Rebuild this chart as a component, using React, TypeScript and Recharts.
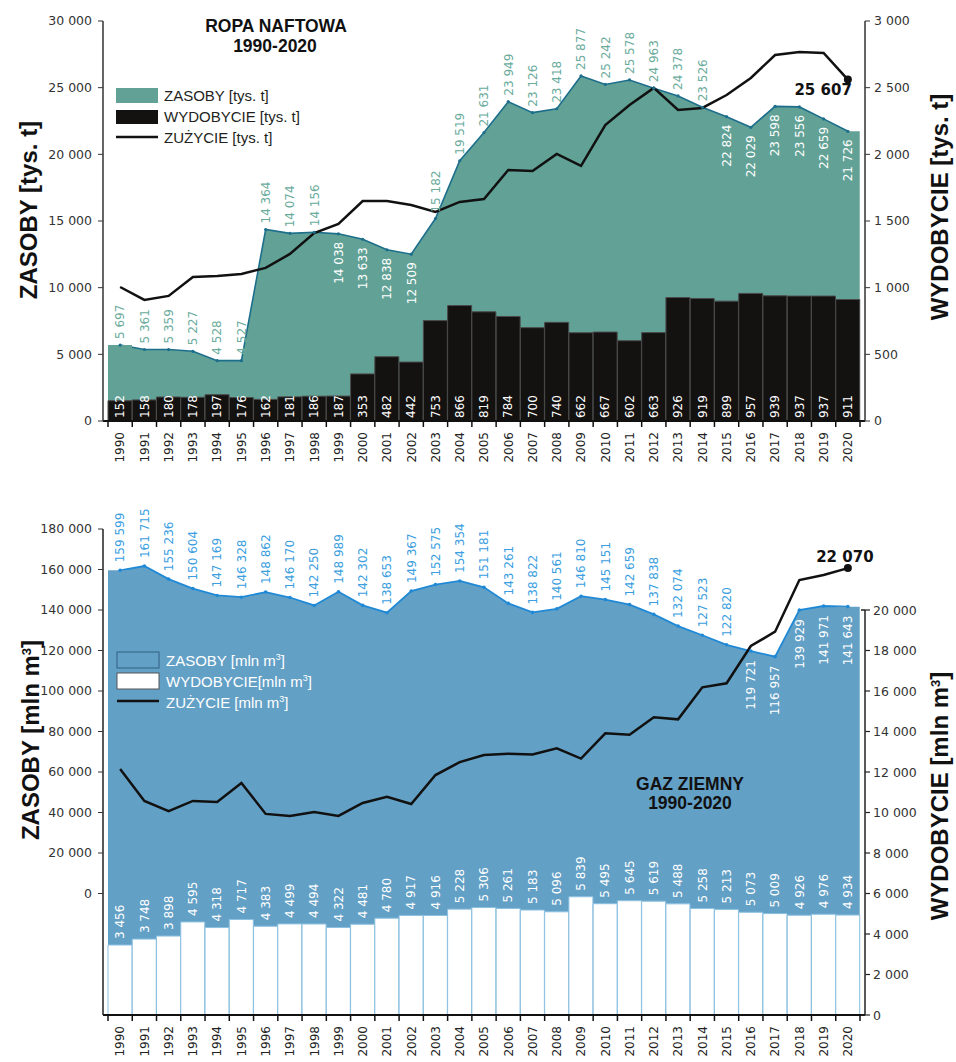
import React from 'react';
import { ComposedChart, Area, Bar, Line, XAxis, YAxis, LabelList } from 'recharts';

const years = [
  '1990', '1991', '1992', '1993', '1994', '1995', '1996', '1997', '1998', '1999', '2000',
  '2001', '2002', '2003', '2004', '2005', '2006', '2007', '2008', '2009', '2010',
  '2011', '2012', '2013', '2014', '2015', '2016', '2017', '2018', '2019', '2020',
];

// ropa naftowa [tys. t]
const ropaZasoby = [
  5697, 5361, 5359, 5227, 4528, 4527, 14364, 14074, 14156, 14038, 13633, 12838, 12509, 15182, 19519,
  21631, 23949, 23126, 23418, 25877, 25242, 25578, 24963, 24378, 23526, 22824, 22029, 23598, 23556, 22659, 21726,
];
const ropaWydobycie = [
  152, 158, 180, 178, 197, 176, 162, 181, 186, 187, 353, 482, 442, 753, 866,
  819, 784, 700, 740, 662, 667, 602, 663, 926, 919, 899, 957, 939, 937, 937, 911,
];
const ropaZuzycie = [
  10050, 9080, 9380, 10800, 10880, 11030, 11480, 12530, 14100, 14780, 16500, 16500, 16200, 15680, 16430,
  16650, 18830, 18750, 20030, 19130, 22200, 23700, 24980, 23330, 23480, 24450, 25730, 27450, 27680, 27600, 25607,
];

// gaz ziemny [mln m3]
const gazZasoby = [
  159599, 161715, 155236, 150604, 147169, 146328, 148862, 146170, 142250, 148989, 142302, 138653, 149367, 152575, 154354,
  151181, 143261, 138822, 140561, 146810, 145151, 142659, 137838, 132074, 127523, 122820, 119721, 116957, 139929, 141971, 141643,
];
const gazWydobycie = [
  3456, 3748, 3898, 4595, 4318, 4717, 4383, 4499, 4494, 4322, 4481, 4780, 4917, 4916, 5228,
  5306, 5261, 5183, 5096, 5839, 5495, 5645, 5619, 5488, 5258, 5213, 5073, 5009, 4926, 4976, 4934,
];
const gazZuzycie = [
  12150, 10570, 10070, 10570, 10520, 11460, 9930, 9830, 10030, 9830, 10470, 10770, 10420, 11850, 12490,
  12840, 12900, 12870, 13170, 12660, 13910, 13840, 14700, 14600, 16180, 16380, 18220, 18930, 21480, 21730, 22070,
];

const ropaLeftTicks = [0, 5000, 10000, 15000, 20000, 25000, 30000];
const ropaRightTicks = [0, 500, 1000, 1500, 2000, 2500, 3000];
const gazLeftTicks = [0, 20000, 40000, 60000, 80000, 100000, 120000, 140000, 160000, 180000];
const gazRightTicks = [0, 2000, 4000, 6000, 8000, 10000, 12000, 14000, 16000, 18000, 20000];

// years whose reserve label sits under the curve (white)
const ropaLabelBelow = ['1999', '2000', '2001', '2002', '2015', '2016', '2017', '2018', '2019', '2020'];
const gazLabelBelow = ['2016', '2017', '2018', '2019', '2020'];

const LAST = years.length - 1;
const GAZ_MIN = -60000;

// edge value fills the outer half band so the reserve area reaches the axis ends
const edge = (arr: number[], i: number) => (i === 0 || i === LAST ? arr[i] : null);

const ropaData = years.map((year, i) => ({
  year, zasoby: ropaZasoby[i], wydobycie: ropaWydobycie[i], zuzycie: ropaZuzycie[i], edge: edge(ropaZasoby, i),
}));
const gazData = years.map((year, i) => ({
  year, zasoby: gazZasoby[i], wydobycie: gazWydobycie[i], zuzycie: gazZuzycie[i], edge: edge(gazZasoby, i),
}));

const FONT = 'DejaVu Sans';
const TITLE_FONT = 'Liberation Sans';
const BAND = (860 - 108) / 31;
const GAZ_R_STEP = ((1015 - 529) * 2000) / 24000;

const fmt = (v: number) => String(v).replace(/\B(?=(\d{3})+(?!\d))/g, ' ');

const box = (p: any) => p.viewBox ?? { x: p.x, y: p.y, width: p.width ?? 0, height: p.height ?? 0 };

function YearTick(props: any) {
  const { x, y, payload, index } = props;
  const ty = y + 11;
  return (
    <g>
      <line x1={x + BAND / 2} x2={x + BAND / 2} y1={y} y2={y + 6} stroke="#111" strokeWidth={1.5} />
      {index === 0 && <line x1={x - BAND / 2} x2={x - BAND / 2} y1={y} y2={y + 6} stroke="#111" strokeWidth={1.5} />}
      <text x={x} y={ty} transform={`rotate(-90 ${x} ${ty})`} textAnchor="end" dy="0.36em" fontSize={12} fill="#222">
        {payload.value}
      </text>
    </g>
  );
}

function GazRightTick(props: any) {
  const { x, y, payload } = props;
  return (
    <g>
      <line x1={x} x2={x + 5} y1={y} y2={y} stroke="#222" strokeWidth={1.2} />
      {payload.value > 0 && <line x1={x} x2={x} y1={y} y2={y + GAZ_R_STEP} stroke="#222" strokeWidth={1.5} />}
      {(payload.value === 0 || payload.value === 20000) && (
        <line x1={x} x2={x - 4} y1={y} y2={y} stroke="#222" strokeWidth={1.5} />
      )}
      <text x={x + 8} y={y} dy="0.36em" fontSize={12.5} fill="#333">{fmt(payload.value)}</text>
    </g>
  );
}

function VText({ x, y, anchor, fill, text, size = 12, weight = 'normal' }: any) {
  return (
    <text x={x} y={y} transform={`rotate(-90 ${x} ${y})`} textAnchor={anchor} dy="0.36em"
      fontSize={size} fill={fill} fontWeight={weight}>
      {text}
    </text>
  );
}

const leftTickStyle = { fontSize: 12.5, fill: '#333' };

function RopaChart() {
  return (
    <ComposedChart width={956} height={480} data={ropaData} margin={{ top: 21, right: 0, bottom: 0, left: 0 }}
      barCategoryGap={0} barGap={0} style={{ fontFamily: FONT }}>
      <XAxis dataKey="year" height={59} padding={{ left: 5, right: 5 }} interval={0}
        axisLine={{ stroke: '#111', strokeWidth: 2 }} tickLine={false} tickSize={0} tickMargin={0}
        tick={(p: any) => <YearTick {...p} />} />
      <XAxis xAxisId="edge" dataKey="year" hide padding={{ left: 5, right: 5 }} />
      <YAxis yAxisId="l" width={103} domain={[0, 30000]} ticks={ropaLeftTicks} tickFormatter={fmt}
        axisLine={{ stroke: '#333', strokeWidth: 1.5 }} tickLine={{ stroke: '#333' }} tickSize={5} tickMargin={6}
        tick={leftTickStyle} />
      <YAxis yAxisId="r" orientation="right" width={91} domain={[0, 3000]} ticks={ropaRightTicks} tickFormatter={fmt}
        axisLine={{ stroke: '#333', strokeWidth: 1.5 }} tickLine={{ stroke: '#333' }} tickSize={5} tickMargin={4}
        tick={leftTickStyle} />
      <Bar xAxisId="edge" yAxisId="l" dataKey="edge" fill="#62a296" isAnimationActive={false} />
      <Area yAxisId="l" dataKey="zasoby" type="linear" fill="#62a296" fillOpacity={1} stroke="#1d6e8b" strokeWidth={1.6}
        dot={{ r: 1.6, fill: '#1d6e8b', stroke: 'none' }} isAnimationActive={false}>
        <LabelList dataKey="zasoby" content={(p: any) => {
          const b = box(p);
          const below = ropaLabelBelow.includes(years[p.index]);
          return below
            ? <VText x={b.x} y={b.y + 8} anchor="end" fill="#ffffff" text={fmt(p.value)} />
            : <VText x={b.x} y={b.y - 6} anchor="start" fill="#6aab9c" text={fmt(p.value)} />;
        }} />
      </Area>
      <Bar yAxisId="r" dataKey="wydobycie" fill="#141211" stroke="#4a4a4a" strokeWidth={1} isAnimationActive={false}>
        <LabelList dataKey="wydobycie" content={(p: any) => {
          const b = box(p);
          return <VText x={b.x + b.width / 2} y={b.y + b.height - 3} anchor="start" fill="#ffffff" text={fmt(p.value)} />;
        }} />
      </Bar>
      <Line yAxisId="l" dataKey="zuzycie" type="linear" stroke="#111" strokeWidth={2.5} isAnimationActive={false}
        dot={(p: any) => p.index === LAST
          ? <circle key={p.index} cx={p.cx} cy={p.cy} r={4} fill="#111" />
          : <g key={p.index} />}>
        <LabelList dataKey="zuzycie" content={(p: any) => {
          if (p.index !== LAST) return null;
          const b = box(p);
          return <text x={b.x + 4} y={b.y + 15} textAnchor="end" fontSize={15} fontWeight="bold" fill="#111">{fmt(p.value)}</text>;
        }} />
      </Line>
    </ComposedChart>
  );
}

function GazChart() {
  return (
    <ComposedChart width={956} height={582} data={gazData} margin={{ top: 49, right: 0, bottom: 0, left: 0 }}
      barCategoryGap={0} barGap={0} style={{ fontFamily: FONT }}>
      <XAxis dataKey="year" height={47} padding={{ left: 5, right: 5 }} interval={0}
        axisLine={{ stroke: '#111', strokeWidth: 2 }} tickLine={false} tickSize={0} tickMargin={0}
        tick={(p: any) => <YearTick {...p} />} />
      <XAxis xAxisId="edge" dataKey="year" hide padding={{ left: 5, right: 5 }} />
      <YAxis yAxisId="l" width={103} domain={[GAZ_MIN, 180000]} ticks={gazLeftTicks} tickFormatter={fmt}
        axisLine={{ stroke: '#222', strokeWidth: 1.5 }} tickLine={{ stroke: '#333' }} tickSize={5} tickMargin={6}
        tick={leftTickStyle} />
      <YAxis yAxisId="r" orientation="right" width={91} domain={[0, 24000]} ticks={gazRightTicks}
        axisLine={false} tickLine={false} tickSize={0} tickMargin={0}
        tick={(p: any) => <GazRightTick {...p} />} />
      <Bar xAxisId="edge" yAxisId="l" dataKey={(d: any) => (d.edge == null ? null : [GAZ_MIN, d.edge])}
        fill="#63a0c6" isAnimationActive={false} />
      <Area yAxisId="l" dataKey="zasoby" type="linear" baseValue="dataMin" fill="#63a0c6" fillOpacity={1}
        stroke="#2089d6" strokeWidth={1.8} dot={{ r: 1.8, fill: '#2089d6', stroke: 'none' }} isAnimationActive={false}>
        <LabelList dataKey="zasoby" content={(p: any) => {
          const b = box(p);
          const below = gazLabelBelow.includes(years[p.index]);
          return below
            ? <VText x={b.x} y={b.y + 9} anchor="end" fill="#ffffff" text={fmt(p.value)} />
            : <VText x={b.x} y={b.y - 8} anchor="start" fill="#3a9ee0" text={fmt(p.value)} />;
        }} />
      </Area>
      <Bar yAxisId="r" dataKey="wydobycie" fill="#ffffff" stroke="#8cc0e0" strokeWidth={1} isAnimationActive={false}>
        <LabelList dataKey="wydobycie" content={(p: any) => {
          const b = box(p);
          return <VText x={b.x + b.width / 2} y={b.y - 6} anchor="start" fill="#ffffff" text={fmt(p.value)} />;
        }} />
      </Bar>
      <Line yAxisId="r" dataKey="zuzycie" type="linear" stroke="#111" strokeWidth={2.5} isAnimationActive={false}
        dot={(p: any) => p.index === LAST
          ? <circle key={p.index} cx={p.cx} cy={p.cy} r={4} fill="#111" />
          : <g key={p.index} />}>
        <LabelList dataKey="zuzycie" content={(p: any) => {
          if (p.index !== LAST) return null;
          const b = box(p);
          return <text x={b.x - 3} y={b.y - 6} textAnchor="middle" fontSize={15} fontWeight="bold" fill="#111">{fmt(p.value)}</text>;
        }} />
      </Line>
    </ComposedChart>
  );
}

function Sup3() {
  return <tspan dy={-8} fontSize={13}>3</tspan>;
}

function Overlay() {
  const legendText = { fontFamily: TITLE_FONT, fontSize: 15 };
  return (
    <svg width={956} height={1062} style={{ position: 'absolute', left: 0, top: 0, pointerEvents: 'none' }}>
      {/* titles */}
      <g fontFamily={TITLE_FONT} fontWeight="bold" fontSize={17.5} fill="#111" textAnchor="middle">
        <text x={276} y={32}>ROPA NAFTOWA</text>
        <text x={275} y={52}>1990-2020</text>
        <text x={690} y={790}>GAZ ZIEMNY</text>
        <text x={690} y={809}>1990-2020</text>
      </g>
      {/* axis titles */}
      <g fontFamily={TITLE_FONT} fontWeight="bold" fontSize={24} fill="#111" textAnchor="middle">
        <text x={37} y={210} transform="rotate(-90 37 210)">ZASOBY [tys. t]</text>
        <text x={948} y={207} transform="rotate(-90 948 207)">WYDOBYCIE [tys. t]</text>
        <text x={39} y={740} transform="rotate(-90 39 740)">ZASOBY [mln m<Sup3 /><tspan dy={8}>]</tspan></text>
        <text x={948} y={796} transform="rotate(-90 948 796)">WYDOBYCIE [mln m<Sup3 /><tspan dy={8}>]</tspan></text>
      </g>
      {/* legend ropa */}
      <rect x={116} y={88} width={42} height={15} fill="#62a296" />
      <text x={164} y={101} {...legendText} fill="#231f20">ZASOBY [tys. t]</text>
      <rect x={116} y={110} width={42} height={14} fill="#141211" />
      <text x={164} y={122} {...legendText} fill="#231f20">WYDOBYCIE [tys. t]</text>
      <line x1={116} x2={158} y1={137} y2={137} stroke="#111" strokeWidth={2.5} />
      <text x={164} y={143} {...legendText} fill="#231f20">ZUŻYCIE [tys. t]</text>
      {/* legend gaz */}
      <rect x={117} y={652} width={42} height={16} fill="#63a0c6" stroke="#2f5f7f" strokeWidth={1} />
      <text x={166} y={666} {...legendText} fill="#ffffff">ZASOBY [mln m<tspan dy={-6} fontSize={9}>3</tspan><tspan dy={6}>]</tspan></text>
      <rect x={117} y={673} width={42} height={16} fill="#ffffff" stroke="#555" strokeWidth={1} />
      <text x={166} y={687} {...legendText} fill="#ffffff">WYDOBYCIE[mln m<tspan dy={-6} fontSize={9}>3</tspan><tspan dy={6}>]</tspan></text>
      <line x1={117} x2={159} y1={701} y2={701} stroke="#111" strokeWidth={2.5} />
      <text x={166} y={708} {...legendText} fill="#ffffff">ZUŻYCIE [mln m<tspan dy={-6} fontSize={9}>3</tspan><tspan dy={6}>]</tspan></text>
    </svg>
  );
}

export default function App() {
  return (
    <div style={{ position: 'absolute', left: 0, top: 0, width: 956, height: 1062, background: '#fff' }}>
      <div style={{ position: 'absolute', left: 0, top: 0 }}>
        <RopaChart />
      </div>
      <div style={{ position: 'absolute', left: 0, top: 480 }}>
        <GazChart />
      </div>
      <Overlay />
    </div>
  );
}
